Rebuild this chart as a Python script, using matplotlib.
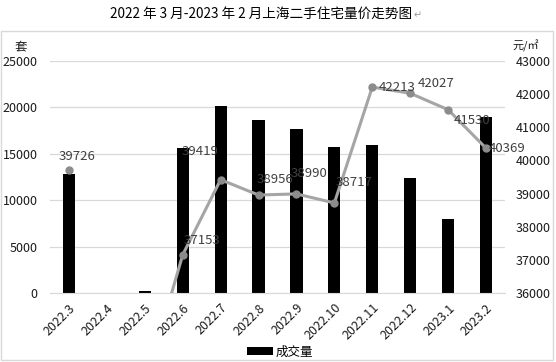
import numpy as np
import matplotlib
matplotlib.use("Agg")
import matplotlib.pyplot as plt
from matplotlib.patches import Rectangle

plt.rcParams['font.family'] = ['Noto Sans CJK SC', 'DejaVu Sans']

# --- data ---
months = ['2022.3', '2022.4', '2022.5', '2022.6', '2022.7', '2022.8', '2022.9',
          '2022.10', '2022.11', '2022.12', '2023.1', '2023.2']
volume = [12800, 0, 220, 15620, 20150, 18640, 17670, 15730, 15950, 12390, 7970, 18950]
price = [39726, np.nan, 33200, 37153, 39419, 38956, 38990, 38717, 42213, 42027, 41530, 40369]
# which prices get a visible label (2022.5 lies below the axis range)
labelled = [True, False, False, True, True, True, True, True, True, True, True, True]

title = '2022 年 3 月-2023 年 2 月上海二手住宅量价走势图'
# label offsets in pixels (dx, dy) relative to each point
label_off = [(8, 13), (0, 0), (0, 0), (19, 14), (-21, 28), (16, 16), (13, 20),
             (20, 20), (25, 0), (26, 10), (24, -11), (21, 0)]

W, H = 556, 362
fig = plt.figure(figsize=(W / 100, H / 100), dpi=100)

# outer chart border
fig.patches.append(Rectangle((1 / W, 2 / H), 552 / W, 329 / H, transform=fig.transFigure,
                             fill=False, edgecolor='#D9D9D9', linewidth=1))

fig.text(412 / W, 1 - 14 / H, title, ha='right', va='center', fontsize=9.8, color='black')
fig.text(418 / W, 1 - 15 / H, '↵', ha='center', va='center', fontsize=7, color='#9a9a9a')

ax = fig.add_axes([50 / W, 69 / H, 455 / W, 232 / H])
x = np.arange(len(months))
bars = ax.bar(x, volume, width=0.32, color='black', label='成交量', zorder=2)
ax.set_xlim(-0.5, len(months) - 0.5)
ax.set_ylim(0, 25000)
ax.set_yticks(np.arange(0, 25001, 5000))
ax.grid(axis='y', color='#D9D9D9', linewidth=0.9, zorder=0)
ax.set_axisbelow(True)
for s in ['top', 'right', 'left']:
    ax.spines[s].set_visible(False)
ax.spines['bottom'].set_color('#D9D9D9')
ax.tick_params(axis='both', length=0, labelsize=9, colors='#1a1a1a')
ax.tick_params(axis='y', pad=9)
ax.set_xticks(x)
ax.set_xticklabels(months, rotation=45, ha='right', va='top', rotation_mode='anchor')
ax.tick_params(axis='x', pad=6)

ax2 = ax.twinx()
ax2.plot(x, price, color='#A5A5A5', linewidth=2.2, marker='o', markersize=5,
         markerfacecolor='#8C8C8C', markeredgecolor='#8C8C8C', zorder=3)
ax2.set_ylim(36000, 43000)
ax2.set_yticks(np.arange(36000, 43001, 1000))
for s in ['top', 'right', 'left', 'bottom']:
    ax2.spines[s].set_visible(False)
ax2.tick_params(axis='y', length=0, labelsize=9, colors='#1a1a1a', pad=8)

for i, (p, show) in enumerate(zip(price, labelled)):
    if show:
        dx, dy = label_off[i]
        ax2.annotate(f'{p:.0f}', (x[i], p), xytext=(dx, dy), textcoords='offset pixels',
                     ha='center', va='center', fontsize=9.5, color='#404040', zorder=4)

fig.text(21 / W, 1 - 47 / H, '套', ha='center', va='center', fontsize=9, color='#1a1a1a')
fig.text(526 / W, 1 - 46 / H, '元/㎡', ha='center', va='center', fontsize=8, color='#1a1a1a')

fig.legend(handles=[bars], labels=['成交量'], loc='center', bbox_to_anchor=(280 / W, 10 / H),
           frameon=False, fontsize=9, handlelength=2.1, handleheight=0.55, handletextpad=0.15,
           borderpad=0.2)

fig.savefig('out.png', dpi=100)
